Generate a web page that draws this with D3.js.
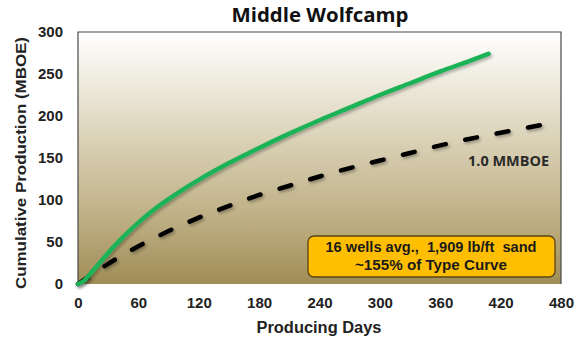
<!DOCTYPE html>
<html><head><meta charset="utf-8">
<script src="https://cdn.jsdelivr.net/npm/d3@7"></script>
<style>body{margin:0;background:#fff;}svg{display:block;font-family:"Liberation Sans",Arial,sans-serif;}</style>
</head><body><svg id="c" width="584" height="343"></svg>
<script>
const title = "Middle Wolfcamp";
const xTicks = [0,60,120,180,240,300,360,420,480];
const yTicks = [0,50,100,150,200,250,300];
const wellsDays   = [0,5,15,30,45,60,75,90,105,120,150,180,210,240,270,300,330,360,390,408];
const wellsValues = [0,3,16,37,56,73,88,101,113,124,144,162,179,195,210,225,239,253,266,274];
const typeDays    = [0,15,30,60,90,120,150,180,210,240,270,300,330,360,390,420,450,472];
const typeValues  = [0,12,24,45,63,79,93,106,117,128,138,147,156,165,173,180,187,192];
const typeLabel = "1.0 MMBOE";
const noteLines = ["16 wells avg.,  1,909 lb/ft  sand","~155% of Type Curve"];

const svg = d3.select("#c");
const m = {l:78, t:32, r:561, b:284};
const x = d3.scaleLinear().domain([0,480]).range([m.l,m.r]);
const y = d3.scaleLinear().domain([0,300]).range([m.b,m.t]);

const defs = svg.append("defs");
const g = defs.append("linearGradient").attr("id","bg").attr("x1",0).attr("y1",0).attr("x2",0).attr("y2",1);
[[0,"#ffffff"],[0.15,"#f3f0e6"],[0.45,"#d8cfb3"],[0.75,"#bdae82"],[1,"#a08d57"]].forEach(s=>
  g.append("stop").attr("offset",s[0]).attr("stop-color",s[1]));
const f = defs.append("filter").attr("id","sh").attr("x","-10%").attr("y","-10%").attr("width","120%").attr("height","130%");
f.append("feDropShadow").attr("dx",1.5).attr("dy",2).attr("stdDeviation",1.5).attr("flood-color","#000").attr("flood-opacity",0.3);

svg.append("rect").attr("x",m.l).attr("y",m.t).attr("width",m.r-m.l).attr("height",m.b-m.t).attr("fill","url(#bg)");
svg.append("path").attr("d",`M${m.l},${m.b}V${m.t}H${m.r}V${m.b}`).attr("fill","none").attr("stroke","#4a4a4a").attr("stroke-width",1.2);

// axes
const xa = svg.append("g").attr("transform",`translate(0,${m.b})`).call(d3.axisBottom(x).tickValues(xTicks).tickSize(0).tickPadding(13));
const ya = svg.append("g").attr("transform",`translate(${m.l},0)`).call(d3.axisLeft(y).tickValues(yTicks).tickSize(0).tickPadding(15));
[xa,ya].forEach(a=>{a.select(".domain").remove();a.selectAll("text").attr("font-size",15).attr("font-weight","bold").attr("fill","#222").attr("font-family","Liberation Sans, Arial, sans-serif");});

// lines
const line = d3.line().x(d=>x(d[0])).y(d=>y(d[1])).curve(d3.curveMonotoneX);
svg.append("path").datum(typeDays.map((d,i)=>[d,typeValues[i]])).attr("d",line)
  .attr("fill","none").attr("stroke","#000").attr("stroke-width",4.5).attr("stroke-linecap","round")
  .attr("stroke-dasharray","12,20").attr("filter","url(#sh)");
svg.append("path").datum(wellsDays.map((d,i)=>[d,wellsValues[i]])).attr("d",line)
  .attr("fill","none").attr("stroke","#1fb358").attr("stroke-width",4.5).attr("stroke-linecap","round").attr("filter","url(#sh)");

svg.append("text").attr("x",468).attr("y",166).attr("font-size",13.5).attr("font-weight","bold")
  .attr("fill","#2a2a2a").attr("font-family","Open Sans, sans-serif").attr("textLength",81).attr("lengthAdjust","spacingAndGlyphs").text(typeLabel);

// note box
svg.append("rect").attr("x",308).attr("y",236).attr("width",247).attr("height",41).attr("rx",6)
  .attr("fill","#ffbf00").attr("stroke","#5a4412").attr("stroke-width",1.3);
const noteLens = [211,152];
noteLines.forEach((t,i)=>svg.append("text").attr("x",431).attr("y",252+i*18).attr("text-anchor","middle")
  .attr("font-size",14.5).attr("font-weight","bold").attr("fill","#1a1a1a").style("white-space","pre")
  .attr("textLength",noteLens[i]).attr("lengthAdjust","spacingAndGlyphs").text(t));

// titles
svg.append("text").attr("x",320).attr("y",22).attr("text-anchor","middle").attr("font-size",19.5).attr("font-weight","bold")
  .attr("fill","#111").attr("font-family","Open Sans, sans-serif").attr("textLength",177).attr("lengthAdjust","spacingAndGlyphs").text(title);
svg.append("text").attr("x",319).attr("y",333).attr("text-anchor","middle").attr("font-size",16).attr("font-weight","bold").attr("fill","#222")
  .attr("textLength",125).attr("lengthAdjust","spacingAndGlyphs").text("Producing Days");
svg.append("text").attr("transform","translate(26,163) rotate(-90)").attr("text-anchor","middle").attr("font-size",15).attr("font-weight","bold").attr("fill","#222")
  .attr("textLength",252).attr("lengthAdjust","spacingAndGlyphs").text("Cumulative Production (MBOE)");
</script></body></html>
